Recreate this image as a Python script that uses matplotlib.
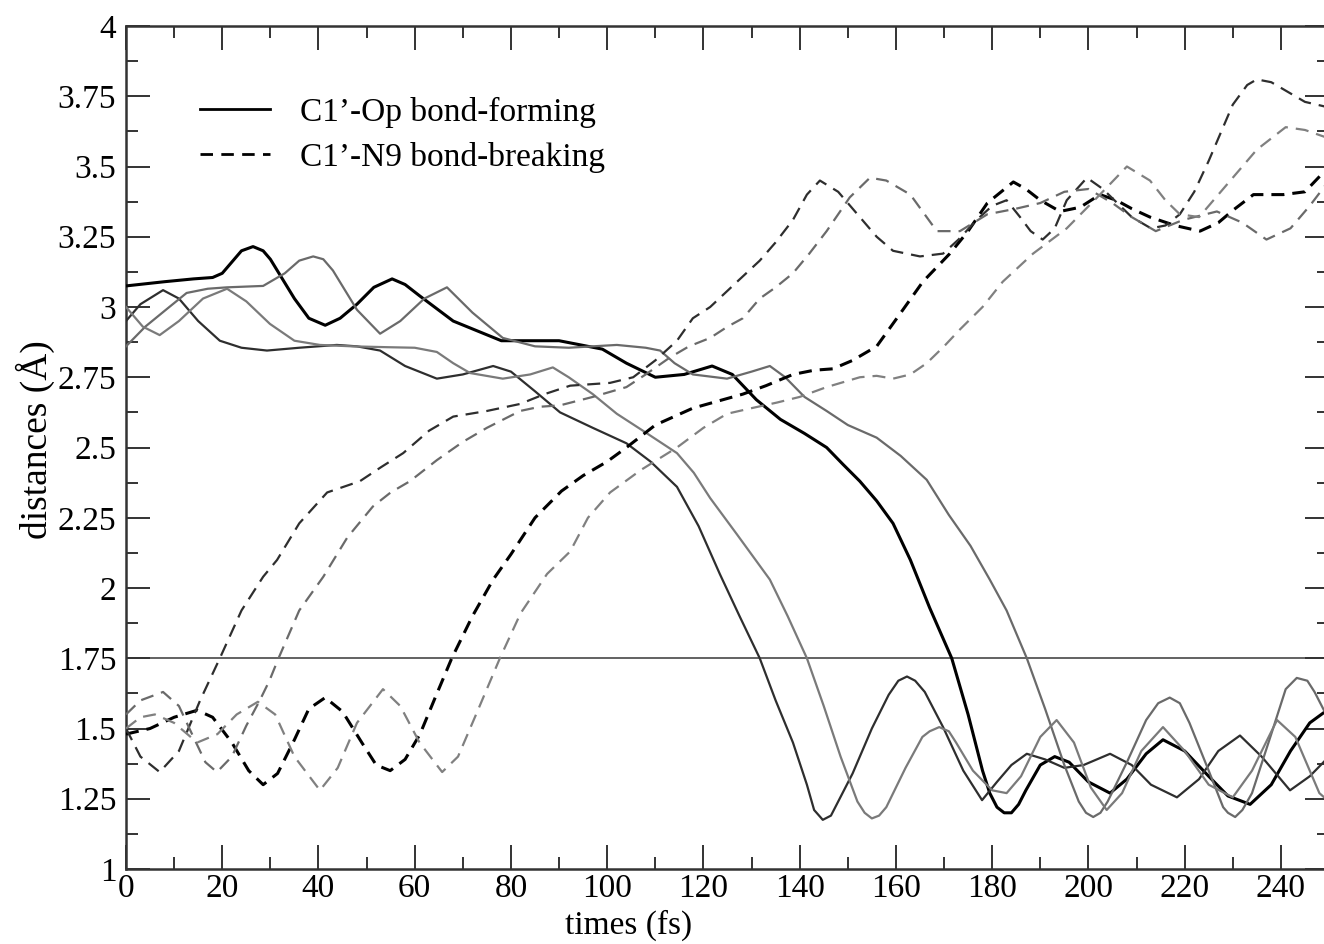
import matplotlib
matplotlib.use("Agg")
import matplotlib.pyplot as plt
from matplotlib.ticker import MultipleLocator, FuncFormatter
from matplotlib.lines import Line2D

plt.rcParams['font.family'] = ['Liberation Serif', 'DejaVu Serif']

# ---- data ----
# Solid curves: C1'-Op bond-forming
s1_t = [0, 8, 14, 18, 20, 22, 24, 26.4, 28.5, 30, 32.5, 35, 38, 41.4, 44.5, 48, 51.5, 55.3, 58, 61, 68, 78, 90, 99, 104, 110, 116, 121.8, 126, 131, 136, 141, 145.6, 149, 152.5, 156, 159.4, 163, 167, 171.6, 175, 178, 179.5, 181, 182.5, 184, 185.5, 187, 190, 193, 196, 200, 204.5, 208, 212, 215.5, 220, 225, 229, 233.6, 238, 242, 246, 250]
s1_d = [3.075, 3.09, 3.10, 3.105, 3.12, 3.16, 3.20, 3.215, 3.20, 3.17, 3.10, 3.03, 2.96, 2.935, 2.96, 3.01, 3.07, 3.10, 3.08, 3.04, 2.95, 2.88, 2.88, 2.85, 2.80, 2.75, 2.76, 2.79, 2.76, 2.67, 2.60, 2.55, 2.50, 2.44, 2.38, 2.31, 2.23, 2.10, 1.93, 1.75, 1.55, 1.35, 1.27, 1.22, 1.20, 1.20, 1.23, 1.28, 1.37, 1.40, 1.38, 1.31, 1.27, 1.32, 1.41, 1.46, 1.42, 1.33, 1.26, 1.23, 1.30, 1.42, 1.52, 1.57]

s2_t = [0, 3, 7.7, 11, 15, 19.5, 24, 29.3, 36, 43.8, 48, 52.8, 58, 64.6, 70, 76.3, 80, 85, 90.2, 97, 104, 109, 114.5, 119, 123.4, 127.5, 131.7, 135, 138.6, 141.5, 143, 144.8, 146.5, 148, 151, 155, 158.5, 160.5, 162.3, 164, 166, 169.8, 174, 177.9, 181, 184, 187.2, 191, 195, 199, 204.5, 209, 213, 218.4, 223, 227, 231.5, 236, 241.9, 246, 250]
s2_d = [2.95, 3.01, 3.06, 3.03, 2.95, 2.88, 2.855, 2.845, 2.855, 2.865, 2.86, 2.845, 2.79, 2.745, 2.76, 2.79, 2.77, 2.70, 2.625, 2.57, 2.515, 2.45, 2.36, 2.22, 2.05, 1.90, 1.75, 1.60, 1.45, 1.30, 1.21, 1.175, 1.19, 1.24, 1.34, 1.50, 1.62, 1.67, 1.685, 1.67, 1.63, 1.505, 1.35, 1.245, 1.31, 1.37, 1.41, 1.39, 1.36, 1.37, 1.41, 1.37, 1.30, 1.255, 1.32, 1.42, 1.475, 1.40, 1.28, 1.33, 1.40]

s3_t = [0, 4, 9, 12.6, 17, 21, 28.5, 33, 36, 38.9, 41, 43, 48, 52.8, 57, 62, 66.7, 72, 78.3, 85, 92, 102, 108, 111, 114, 117.8, 124.9, 130, 133.8, 137, 141, 145.6, 150, 156, 161, 166.4, 171, 175.5, 179.5, 183, 187.2, 191, 195, 198, 199.5, 201, 202.5, 204, 208, 212, 214.5, 216.9, 219, 221, 225, 228, 229, 230.5, 232, 234, 238, 241, 243.3, 245.5, 247, 250]
s3_d = [2.86, 2.93, 3.00, 3.05, 3.065, 3.07, 3.075, 3.12, 3.165, 3.18, 3.17, 3.13, 2.99, 2.905, 2.95, 3.03, 3.07, 2.98, 2.89, 2.86, 2.855, 2.865, 2.855, 2.845, 2.80, 2.76, 2.745, 2.77, 2.79, 2.75, 2.68, 2.63, 2.58, 2.535, 2.47, 2.385, 2.26, 2.15, 2.03, 1.92, 1.75, 1.57, 1.37, 1.24, 1.20, 1.185, 1.20, 1.24, 1.38, 1.53, 1.59, 1.61, 1.59, 1.52, 1.35, 1.22, 1.20, 1.185, 1.21, 1.27, 1.48, 1.64, 1.68, 1.67, 1.63, 1.53]

s4_t = [0, 3.5, 7, 11, 16, 21, 25, 29.9, 35, 40.3, 47, 54.2, 60, 64.6, 68, 71.5, 78.3, 84, 88.7, 92, 97, 102, 107.4, 114.5, 118, 121.4, 127, 133.8, 137.5, 141.5, 145, 148.5, 152, 153.5, 155, 156.5, 158, 162, 165.5, 167, 169, 171, 172.5, 176, 180, 183, 186, 190, 193.4, 197, 200.5, 203.8, 207, 211, 215.5, 220, 225, 230, 234, 239.2, 243, 248, 250]
s4_d = [3.00, 2.93, 2.90, 2.95, 3.03, 3.065, 3.02, 2.94, 2.88, 2.865, 2.86, 2.857, 2.855, 2.84, 2.80, 2.765, 2.745, 2.76, 2.785, 2.75, 2.69, 2.62, 2.56, 2.48, 2.41, 2.32, 2.19, 2.03, 1.90, 1.75, 1.58, 1.40, 1.24, 1.20, 1.18, 1.19, 1.22, 1.36, 1.47, 1.49, 1.505, 1.49, 1.45, 1.35, 1.28, 1.27, 1.33, 1.47, 1.53, 1.45, 1.29, 1.21, 1.27, 1.42, 1.505, 1.42, 1.30, 1.255, 1.35, 1.53, 1.47, 1.27, 1.24]

# Dashed curves: C1'-N9 bond-breaking
da_t = [0, 5, 10, 14.8, 18, 22, 25.5, 28.5, 31.5, 35, 38, 41.4, 45, 49, 52, 54.9, 58, 61.1, 64.5, 67.7, 72, 76.3, 80, 85, 90.5, 95, 100, 104, 110, 117.8, 123, 128.2, 133, 138.6, 143, 146.9, 151, 156, 160.2, 165.6, 171.2, 175, 179, 184.4, 187, 190, 194.1, 198.3, 202.4, 205.8, 209, 212.8, 218, 223.2, 227, 230.1, 234.3, 240.5, 245, 248.9, 250]
da_d = [1.48, 1.50, 1.54, 1.565, 1.54, 1.45, 1.35, 1.30, 1.34, 1.46, 1.57, 1.61, 1.56, 1.45, 1.37, 1.35, 1.39, 1.48, 1.62, 1.75, 1.90, 2.03, 2.12, 2.25, 2.345, 2.40, 2.45, 2.50, 2.58, 2.64, 2.665, 2.69, 2.72, 2.76, 2.775, 2.78, 2.81, 2.86, 2.96, 3.09, 3.19, 3.27, 3.37, 3.445, 3.42, 3.38, 3.34, 3.355, 3.40, 3.38, 3.35, 3.32, 3.29, 3.27, 3.30, 3.345, 3.40, 3.40, 3.41, 3.48, 3.49]

db_t = [0, 3, 7, 11, 15.4, 19.5, 24, 28.5, 31.4, 36, 41.8, 48.6, 53, 57.6, 63, 68, 75, 81.9, 87, 92.3, 100.6, 105.4, 110, 114.5, 117.8, 121.4, 127, 131.7, 135, 138.6, 141.5, 144.2, 148, 152.5, 156, 159.4, 165, 169.8, 173, 176.8, 180, 183, 185.8, 188, 190.5, 193, 195.5, 199.7, 203, 206, 209, 213, 216, 219, 222, 225, 230, 233, 235, 238, 241, 245, 250]
db_d = [1.50, 1.40, 1.345, 1.42, 1.60, 1.75, 1.92, 2.04, 2.10, 2.23, 2.34, 2.38, 2.43, 2.48, 2.56, 2.61, 2.63, 2.655, 2.69, 2.72, 2.73, 2.75, 2.81, 2.88, 2.96, 3.00, 3.09, 3.165, 3.23, 3.31, 3.40, 3.45, 3.41, 3.32, 3.25, 3.20, 3.18, 3.19, 3.24, 3.31, 3.36, 3.38, 3.32, 3.27, 3.24, 3.28, 3.38, 3.46, 3.42, 3.37, 3.32, 3.28, 3.29, 3.33, 3.41, 3.52, 3.72, 3.79, 3.81, 3.80, 3.77, 3.73, 3.71]

dc_t = [0, 3, 7.7, 11, 14, 16.5, 18.9, 22, 25, 27.8, 29.8, 31.7, 36, 41, 46, 51.3, 55, 59, 64.6, 70, 75, 81.9, 86, 90.2, 97, 104, 108, 113, 117, 121.4, 125, 128.2, 131.7, 135, 138.6, 142, 145.6, 150.4, 154.6, 158, 163, 168.5, 173.3, 179, 185, 190, 195, 200, 205, 209, 214, 219.7, 226.7, 232, 237, 242, 246, 250]
dc_d = [1.55, 1.60, 1.63, 1.58, 1.47, 1.38, 1.345, 1.40, 1.51, 1.60, 1.67, 1.75, 1.92, 2.04, 2.18, 2.29, 2.34, 2.38, 2.455, 2.52, 2.57, 2.63, 2.645, 2.65, 2.68, 2.715, 2.76, 2.82, 2.86, 2.89, 2.93, 2.96, 3.03, 3.07, 3.12, 3.19, 3.27, 3.39, 3.46, 3.45, 3.40, 3.27, 3.27, 3.33, 3.35, 3.37, 3.41, 3.42, 3.37, 3.32, 3.27, 3.31, 3.34, 3.30, 3.24, 3.28, 3.36, 3.45]

dd_t = [0, 3, 6, 10, 14.8, 19, 23, 27.4, 31, 35, 40.3, 44, 48, 53.4, 57, 61, 65.7, 69, 73, 77.7, 82, 87.5, 92.3, 96, 100.6, 107, 114.5, 120, 124.9, 130, 135.3, 140, 145.6, 152.5, 156, 159.4, 163, 166.4, 170, 173.3, 178, 182.2, 188.5, 195.5, 202.4, 208, 212.8, 216, 219, 223, 226, 230, 235, 241, 245, 250]
dd_d = [1.50, 1.54, 1.55, 1.52, 1.45, 1.48, 1.55, 1.595, 1.55, 1.40, 1.28, 1.36, 1.52, 1.64, 1.58, 1.45, 1.345, 1.40, 1.56, 1.75, 1.91, 2.05, 2.13, 2.25, 2.34, 2.42, 2.50, 2.57, 2.62, 2.64, 2.66, 2.68, 2.715, 2.75, 2.755, 2.745, 2.76, 2.80, 2.86, 2.92, 3.00, 3.09, 3.19, 3.28, 3.40, 3.50, 3.45, 3.38, 3.33, 3.32, 3.38, 3.46, 3.56, 3.64, 3.63, 3.60]

threshold = 1.75
legend_labels = ["C1\u2019-Op bond-forming", "C1\u2019-N9 bond-breaking"]
x_ticks = list(range(0, 241, 20))
y_ticks = [1, 1.25, 1.5, 1.75, 2, 2.25, 2.5, 2.75, 3, 3.25, 3.5, 3.75, 4]

# ---- figure ----
fig = plt.figure(figsize=(13.24, 9.44), dpi=100)
ax = fig.add_axes([126 / 1324, 75 / 944, 1203 / 1324, 843 / 944])

ax.axhline(threshold, color='#555555', lw=1.3, zorder=1)

solid = [(s1_t, s1_d, '#000000', 2.2), (s2_t, s2_d, '#2e2e2e', 1.6),
         (s3_t, s3_d, '#6a6a6a', 1.6), (s4_t, s4_d, '#7a7a7a', 1.6)]
for t, d, c, lw in solid:
    ax.plot(t, d, color=c, lw=lw, solid_joinstyle='round', zorder=3)

dashed = [(da_t, da_d, '#000000', 2.2), (db_t, db_d, '#2e2e2e', 1.6),
          (dc_t, dc_d, '#6a6a6a', 1.6), (dd_t, dd_d, '#808080', 1.6)]
for t, d, c, lw in dashed:
    ax.plot(t, d, color=c, lw=lw, ls=(0, (13 / lw / 1.389, 8 / lw / 1.389)), zorder=3)

ax.set_xlim(0, 250)
ax.set_ylim(1, 4)
ax.set_xticks(x_ticks)
ax.xaxis.set_minor_locator(MultipleLocator(10))
ax.set_yticks(y_ticks)
ax.yaxis.set_minor_locator(MultipleLocator(0.125))
ax.yaxis.set_major_formatter(FuncFormatter(lambda v, p: '%g' % v))

ax.tick_params(which='both', direction='in', top=True, right=True, color='#333333')
ax.tick_params(which='major', length=17, width=1.4, labelsize=24)
ax.tick_params(which='minor', length=8.5, width=1.4)
ax.tick_params(axis='x', which='major', pad=3)
ax.tick_params(axis='y', which='major', pad=7)
for sp in ax.spines.values():
    sp.set_linewidth(1.8)
    sp.set_color('#333333')

ax.set_xlabel('times (fs)', fontsize=24)
ax.xaxis.set_label_coords((629 - 126) / 1203, -56 / 843, transform=ax.transAxes)
ax.xaxis.label.set_va('center')
ax.set_ylabel('distances (\u00c5)', fontsize=27)
ax.yaxis.set_label_coords(-(126 - 35) / 1203, (869 - 440) / 843, transform=ax.transAxes)
ax.yaxis.label.set_va('center')

handles = [Line2D([], [], color='black', lw=2.0),
           Line2D([], [], color='black', lw=2.0, ls=(0, (4.5, 3)))]
ax.legend(handles, legend_labels, loc='upper left', bbox_to_anchor=(0.0615, 0.916),
          frameon=False, fontsize=24, handlelength=2.1, handletextpad=0.9,
          labelspacing=0.42, borderpad=0, borderaxespad=0)

fig.savefig('out.png', dpi=100)
